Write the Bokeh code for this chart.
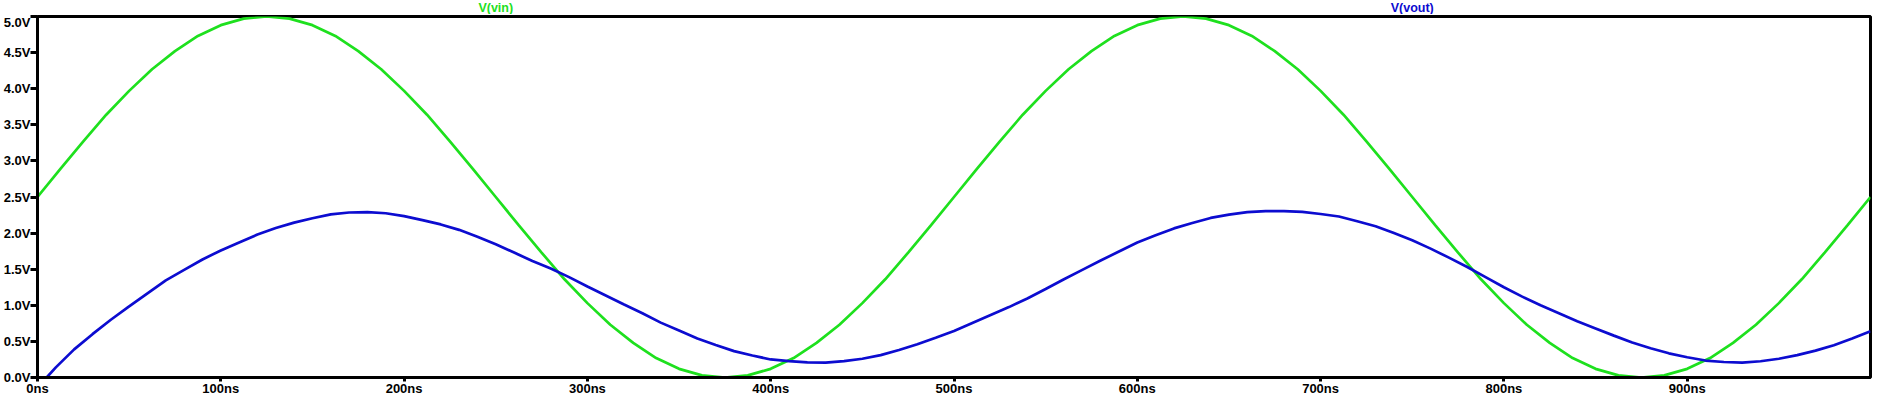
from bokeh.plotting import figure
from bokeh.layouts import column
from bokeh.models import Range1d, FixedTicker, PrintfTickFormatter, ColumnDataSource
from bokeh.core.properties import value
from bokeh.embed import file_html
from bokeh.resources import INLINE

# ---- data ----
t_vin_ns = [i * 12.5 for i in range(81)]  # sample times (ns)
v_vin = [2.50, 2.89, 3.27, 3.64, 3.97, 4.27, 4.52, 4.73, 4.88, 4.97,
         5.00, 4.97, 4.88, 4.73, 4.52, 4.27, 3.97, 3.64, 3.27, 2.89,
         2.50, 2.11, 1.73, 1.36, 1.03, 0.73, 0.48, 0.27, 0.12, 0.03,
         0.00, 0.03, 0.12, 0.27, 0.48, 0.73, 1.03, 1.36, 1.73, 2.11,
         2.50, 2.89, 3.27, 3.64, 3.97, 4.27, 4.52, 4.73, 4.88, 4.97,
         5.00, 4.97, 4.88, 4.73, 4.52, 4.27, 3.97, 3.64, 3.27, 2.89,
         2.50, 2.11, 1.73, 1.36, 1.03, 0.73, 0.48, 0.27, 0.12, 0.03,
         0.00, 0.03, 0.12, 0.27, 0.48, 0.73, 1.03, 1.36, 1.73, 2.11,
         2.50]

t_vout_ns = [0, 5] + list(range(10, 1001, 10))  # sample times (ns)
v_vout = [0.00, 0.00,
          0.14, 0.39, 0.60, 0.80, 0.985, 1.165, 1.345, 1.49, 1.635, 1.76,
          1.87, 1.98, 2.07, 2.145, 2.205, 2.26, 2.285, 2.29, 2.275, 2.235,
          2.18, 2.12, 2.045, 1.95, 1.845, 1.73, 1.615, 1.51, 1.39, 1.26,
          1.135, 1.01, 0.89, 0.76, 0.65, 0.54, 0.45, 0.365, 0.305, 0.25,
          0.227, 0.21, 0.206, 0.226, 0.26, 0.31, 0.38, 0.46, 0.55, 0.645,
          0.755, 0.865, 0.975, 1.095, 1.225, 1.36, 1.49, 1.62, 1.745, 1.87,
          1.97, 2.065, 2.14, 2.21, 2.255, 2.29, 2.305, 2.305, 2.295, 2.265,
          2.23, 2.165, 2.095, 2.00, 1.90, 1.785, 1.66, 1.53, 1.39, 1.25,
          1.12, 1.00, 0.89, 0.78, 0.68, 0.58, 0.485, 0.405, 0.335, 0.28,
          0.235, 0.215, 0.206, 0.225, 0.26, 0.31, 0.372, 0.447, 0.54, 0.64]

x_ticks = [0, 100, 200, 300, 400, 500, 600, 700, 800, 900]
y_ticks = [0.0, 0.5, 1.0, 1.5, 2.0, 2.5, 3.0, 3.5, 4.0, 4.5, 5.0]
trace_names = ["V(vin)", "V(vout)"]
trace_label_x = [250, 750]

GREEN = "#1ee01e"
BLUE = "#0c0cd0"
FONT = "Liberation Sans"

xr = Range1d(0, 1000)
LEFT = 37
RIGHT = 2

# header strip carrying the trace names
hdr = figure(width=1872, height=14, output_backend="svg", toolbar_location=None,
             x_range=xr, y_range=Range1d(0, 14),
             min_border_left=LEFT, min_border_right=RIGHT, min_border_top=0, min_border_bottom=0)
hdr.axis.visible = False
hdr.grid.visible = False
hdr.outline_line_color = None
hdr.background_fill_color = "white"
hdr.border_fill_color = "white"
src = ColumnDataSource(dict(x=trace_label_x, y=[6.5, 6.5], text=trace_names,
                            color=[GREEN, BLUE]))
hdr.text(x="x", y="y", text="text", source=src, text_color="color",
         text_align="center", text_baseline="middle",
         text_font=value(FONT), text_font_style="bold", text_font_size="12.5px")

p = figure(width=1872, height=384, output_backend="svg", toolbar_location=None,
           x_range=xr, y_range=Range1d(0, 5),
           min_border_left=LEFT, min_border_right=RIGHT, min_border_top=2, min_border_bottom=10)
p.background_fill_color = "white"
p.border_fill_color = "white"
p.outline_line_color = "black"
p.outline_line_width = 3
p.xgrid.visible = False
p.ygrid.visible = False

for ax in (p.xaxis[0], p.yaxis[0]):
    ax.axis_line_color = "black"
    ax.axis_line_width = 3
    ax.major_tick_line_color = "black"
    ax.major_tick_line_width = 3
    ax.minor_tick_line_color = None
    ax.major_tick_in = 0
    ax.major_label_text_font = FONT
    ax.major_label_text_font_style = "bold"
    ax.major_label_text_font_size = "13px"
    ax.major_label_text_color = "black"

p.xaxis[0].ticker = FixedTicker(ticks=x_ticks)
p.xaxis[0].formatter = PrintfTickFormatter(format="%dns")
p.xaxis[0].major_tick_out = 4
p.xaxis[0].major_label_standoff = -1

p.yaxis[0].ticker = FixedTicker(ticks=y_ticks)
p.yaxis[0].formatter = PrintfTickFormatter(format="%.1fV")
p.yaxis[0].major_tick_out = 7
p.yaxis[0].major_label_standoff = 0

p.line(t_vin_ns, v_vin, line_color=GREEN, line_width=2.7)
p.line(t_vout_ns, v_vout, line_color=BLUE, line_width=2.7)

layout = column(hdr, p, spacing=0)
open("out.html", "w").write(file_html(layout, INLINE))
